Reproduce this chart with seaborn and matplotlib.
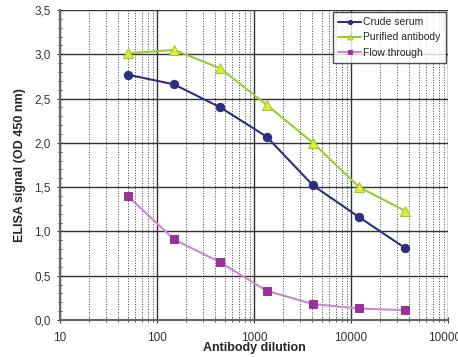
import matplotlib
matplotlib.use("Agg")
import matplotlib.pyplot as plt
import matplotlib.ticker as mticker
import pandas as pd
import seaborn as sns

dilution = [50, 150, 450, 1350, 4050, 12150, 36450]
crude_serum = [2.77, 2.66, 2.40, 2.07, 1.52, 1.16, 0.81]
purified_antibody = [3.01, 3.05, 2.84, 2.43, 2.00, 1.50, 1.23]
flow_through = [1.40, 0.91, 0.65, 0.33, 0.18, 0.13, 0.11]

sns.set_style("white")
plt.rcParams["font.family"] = ["Liberation Sans", "DejaVu Sans"]

df = pd.DataFrame({"dilution": dilution, "Crude serum": crude_serum,
                   "Purified antibody": purified_antibody, "Flow through": flow_through})

fig = plt.figure(figsize=(4.58, 3.57), dpi=100)
ax = fig.add_axes([60 / 458, 1 - 320 / 357, 388 / 458, 310 / 357])

styles = {
    "Crude serum": dict(color="#2E2E80", marker="o", mfc="#2E2E80", mec="#2E2E80", ms=6),
    "Purified antibody": dict(color="#99CC33", marker="^", mfc="#DDEE33", mec="#99CC33", ms=7),
    "Flow through": dict(color="#CC88CC", marker="s", mfc="#993399", mec="#993399", ms=6),
}
for name, st in styles.items():
    sns.lineplot(data=df, x="dilution", y=name, ax=ax, label=name, color=st["color"],
                 marker=st["marker"], markerfacecolor=st["mfc"], markeredgecolor=st["mec"],
                 markersize=st["ms"], linewidth=1.5)

ax.set_xscale("log")
ax.set_xlim(10, 100000)
ax.set_ylim(0, 3.5)
ax.xaxis.set_major_locator(mticker.LogLocator(base=10))
ax.xaxis.set_minor_locator(mticker.LogLocator(base=10, subs=range(2, 10)))
ax.xaxis.set_major_formatter(mticker.FuncFormatter(lambda v, p: f"{int(v)}"))
ax.xaxis.set_minor_formatter(mticker.NullFormatter())
ax.yaxis.set_major_locator(mticker.MultipleLocator(0.5))
ax.yaxis.set_minor_locator(mticker.MultipleLocator(0.1))
ax.yaxis.set_major_formatter(mticker.FuncFormatter(lambda v, p: f"{v:.1f}".replace(".", ",")))

ax.grid(which="major", axis="both", color="#333333", linewidth=1.0)
ax.grid(which="minor", axis="x", color="#444444", linewidth=0.7, linestyle=":")
ax.tick_params(which="both", direction="inout", labelsize=8.5, colors="#333333")
ax.tick_params(which="major", length=5, left=True, bottom=True)
ax.tick_params(which="minor", length=3, left=True, bottom=True)
ax.tick_params(axis="x", pad=6)
ax.tick_params(axis="y", pad=4)

for side in ["left", "bottom"]:
    ax.spines[side].set_color("#666666")
    ax.spines[side].set_linewidth(1.5)
for side in ["top", "right"]:
    ax.spines[side].set_visible(False)

ax.set_xlabel("Antibody dilution", fontsize=9, fontweight="bold", labelpad=-1)
ax.set_ylabel("ELISA signal (OD 450 nm)", fontsize=9, fontweight="bold", labelpad=6)

leg = ax.legend(loc="upper right", fontsize=7.5, frameon=True, fancybox=False,
                edgecolor="#222222", borderaxespad=0.2, handlelength=2.2,
                handletextpad=0.2, markerscale=0.5, borderpad=0.5)
leg.get_frame().set_linewidth(1.0)

fig.savefig("out.png", dpi=100)
